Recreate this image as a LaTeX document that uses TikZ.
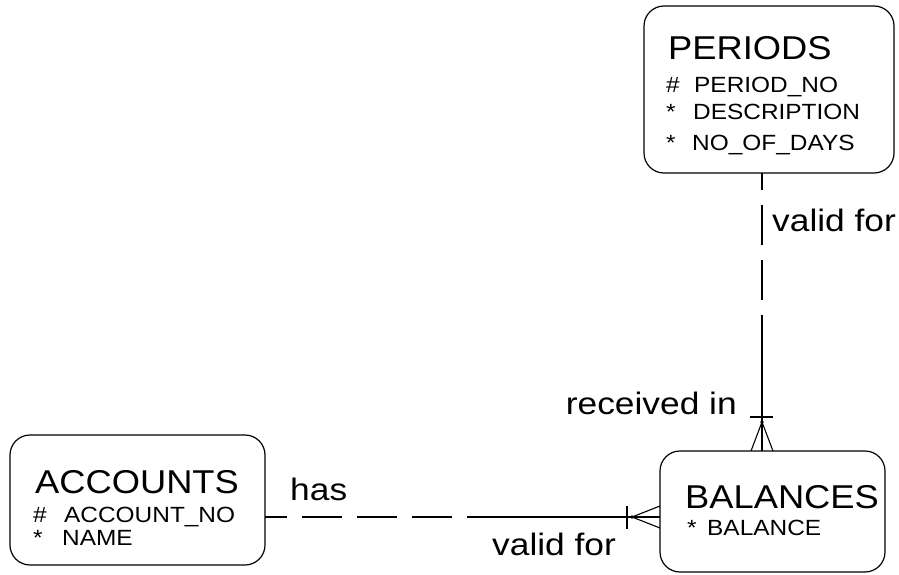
\documentclass[tikz,border=0pt]{standalone}
\usepackage{fontspec}
\setmainfont{Liberation Sans}
\newfontfamily\entfont[FakeStretch=1.1]{Liberation Sans}
\newfontfamily\attrfont[FakeStretch=1.11]{Liberation Sans}
\newfontfamily\relfont[FakeStretch=1.14]{Liberation Sans}
\usetikzlibrary{calc}
\begin{document}
\begin{tikzpicture}[x=1pt,y=-1pt,
  entity/.style={draw,line width=1.2pt,rounded corners=20pt,inner sep=0pt},
  title/.style={anchor=base west,inner sep=0pt,font=\entfont\fontsize{33}{33}\selectfont},
  attr/.style={anchor=base west,inner sep=0pt,font=\attrfont\fontsize{22}{22}\selectfont},
  rel/.style={inner sep=0pt,font=\relfont\fontsize{31}{31}\selectfont},
  link/.style={line width=1.2pt},
  optional/.style={link,dash pattern=on 40pt off 15pt,dash phase=40pt},
  crow/.style={line width=1.1pt}]
\useasboundingbox (0,0) rectangle (899,575);

% entities
\node[entity,minimum width=250pt,minimum height=167pt] (per) at (769,89.5) {};
\node[entity,minimum width=255pt,minimum height=130pt] (acc) at (137.5,500) {};
\node[entity,minimum width=225pt,minimum height=121pt] (bal) at (772.5,511.5) {};

% entity texts
\node[title] (perT) at (668,60) {PERIODS};
\node[attr] (perA1) at (666,93) {\makebox[28pt][l]{\#}PERIOD\_NO};
\node[attr] (perA2) at (666,120) {\makebox[27pt][l]{*}DESCRIPTION};
\node[attr] (perA3) at (666,150) {\makebox[26pt][l]{*}NO\_OF\_DAYS};

\node[title] (accT) at (35,493) {ACCOUNTS};
\node[attr] (accA1) at (33,522) {\makebox[31pt][l]{\#}ACCOUNT\_NO};
\node[attr] (accA2) at (33,545) {\makebox[29pt][l]{*}NAME};

\node[title] (balT) at (685,508) {BALANCES};
\node[attr] (balA1) at (687,535) {\makebox[20pt][l]{*}BALANCE};

% PERIODS -- BALANCES
\coordinate (vtop) at (762,173);
\coordinate (vmid) at (762,315);
\coordinate (vbot) at (762,451);
\coordinate (vfoot) at (762,422);
\draw[optional] (vmid) -- (vtop);
\draw[link] (vmid) -- (vbot);
\draw[crow] (750,417) -- (773,417);
\draw[crow] (vfoot) -- (751,451);
\draw[crow] (vfoot) -- (773,451);
\fill (vfoot) circle (1.8pt);

% ACCOUNTS -- BALANCES
\coordinate (hleft) at (265,517);
\coordinate (hmid) at (467,517);
\coordinate (hright) at (660,517);
\coordinate (hfoot) at (632,517);
\draw[optional] (hmid) -- (hleft);
\draw[link] (hmid) -- (hright);
\draw[crow] (627,506) -- (627,529);
\draw[crow] (hfoot) -- (660,506);
\draw[crow] (hfoot) -- (660,528);
\fill (hfoot) circle (1.8pt);

% relationship names
\node[rel,anchor=base west] (lvf1) at (772,231) {valid for};
\node[rel,anchor=base east] (lri) at (737,414) {received in};
\node[rel,anchor=base west] (lhas) at (290,500) {has};
\node[rel,anchor=base west] (lvf2) at (492,555) {valid for};
\end{tikzpicture}
\end{document}
